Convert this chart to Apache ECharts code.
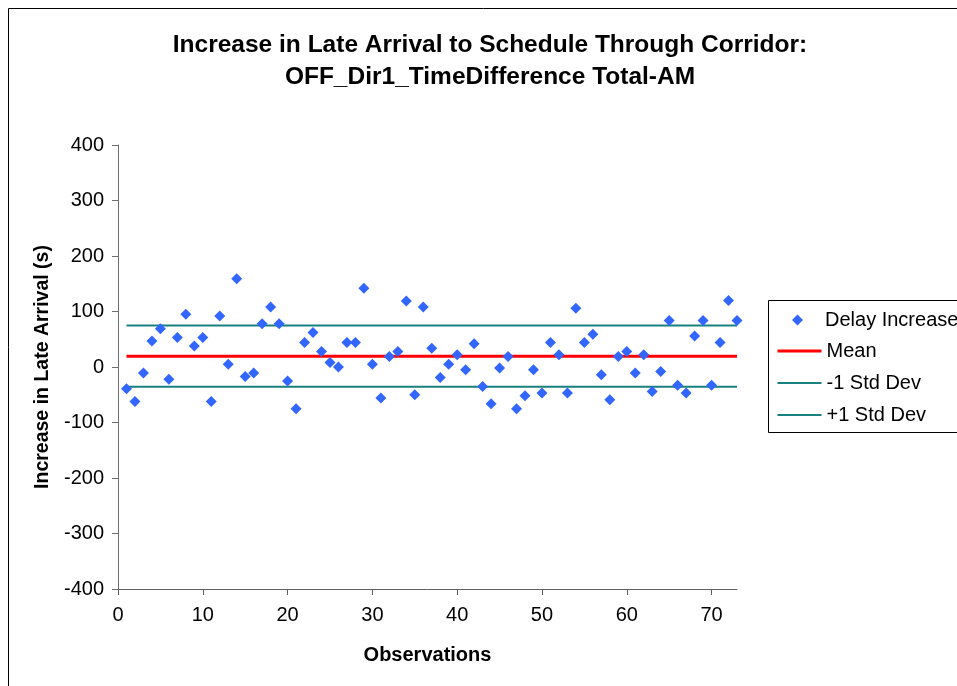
<!DOCTYPE html>
<html><head><meta charset="utf-8">
<script src="https://cdn.jsdelivr.net/npm/echarts@6/dist/echarts.min.js"></script>
<style>html,body{margin:0;padding:0;background:#fff}#c{width:957px;height:686px}</style>
</head><body><div id="c"></div>
<script>
var titleLines = ['Increase in Late Arrival to Schedule Through Corridor:', 'OFF_Dir1_TimeDifference Total-AM'];
var observations = [1,2,3,4,5,6,7,8,9,10,11,12,13,14,15,16,17,18,19,20,21,22,23,24,25,26,27,28,29,30,31,32,33,34,35,36,37,38,39,40,41,42,43,44,45,46,47,48,49,50,51,52,53,54,55,56,57,58,59,60,61,62,63,64,65,66,67,68,69,70,71,72,73];
var delayIncrease = [-39,-62,-11,47,69,-22,53,95,38,53,-62,92,5,159,-17,-11,78,108,78,-25,-75,44,62,28,8,0,44,44,142,5,-56,19,28,119,-50,108,34,-19,5,22,-5,42,-35,-66,-2,19,-75,-52,-5,-47,44,22,-47,106,44,59,-14,-59,19,28,-11,22,-44,-8,84,-33,-47,56,84,-33,44,120,84];
var meanValue = 19.5;
var minusOneStd = -35.5;
var plusOneStd = 75;
var xRange = [1, 73];

function lineData(v){ return xRange.map(function(x){ return [x, v]; }); }

var chart = echarts.init(document.getElementById('c'), null, {renderer:'canvas'});
var font = '"Liberation Sans", Arial, sans-serif';
chart.setOption({
  animation:false,
  backgroundColor:'#ffffff',
  title:{
    text: titleLines.join('\n'),
    left: 485, top: 24, textAlign:'center',
    textStyle:{fontFamily:font, fontSize:24.5, fontWeight:'bold', color:'#000', lineHeight:32}
  },
  graphic:[
    {type:'rect', shape:{x:8.5,y:8.5,width:1000,height:1000}, style:{fill:'none', stroke:'#000', lineWidth:1}, silent:true},
    {type:'rect', shape:{x:768.5,y:300.5,width:300,height:132}, style:{fill:'#fff', stroke:'#000', lineWidth:1}, silent:true, z:-1}
  ],
  legend:[
    {data:[{name:'Delay Increase', icon:'diamond'}], orient:'vertical', left:792, top:310, padding:0,
     itemWidth:11, itemHeight:11,
     itemStyle:{opacity:1},
     textStyle:{fontFamily:font, fontSize:20, color:'#000', padding:[0,0,0,17]}},
    {data:[{name:'Mean', lineStyle:{width:3}},{name:'-1 Std Dev', lineStyle:{width:2}},{name:'+1 Std Dev', lineStyle:{width:2}}],
     orient:'vertical', left:776, top:341, padding:0,
     itemWidth:44, itemHeight:16, itemGap:12,
     itemStyle:{opacity:0},
     textStyle:{fontFamily:font, fontSize:20, color:'#000', lineHeight:16}}
  ],
  grid:{left:118, top:145, right:220, bottom:97, containLabel:false},
  xAxis:{
    type:'value', min:0, max:73, interval:10,
    name:'Observations', nameLocation:'middle', nameGap:56,
    nameTextStyle:{fontFamily:font, fontSize:20, fontWeight:'bold', color:'#000'},
    axisLine:{onZero:false, lineStyle:{color:'#606060', width:1}},
    axisTick:{show:true, length:6, lineStyle:{color:'#606060'}},
    axisLabel:{fontFamily:font, fontSize:20, color:'#000', margin:16, showMaxLabel:false},
    splitLine:{show:false}
  },
  yAxis:{
    type:'value', min:-400, max:400, interval:100,
    name:'Increase in Late Arrival (s)', nameLocation:'middle', nameGap:64, nameRotate:90,
    nameTextStyle:{fontFamily:font, fontSize:19.5, fontWeight:'bold', color:'#000'},
    axisLine:{show:true, onZero:false, lineStyle:{color:'#707070', width:1}},
    axisTick:{show:true, length:6, lineStyle:{color:'#707070'}},
    axisLabel:{fontFamily:font, fontSize:20, color:'#000', margin:14},
    splitLine:{show:false}
  },
  series:[
    {name:'Delay Increase', type:'scatter', symbol:'diamond', symbolSize:11,
     itemStyle:{color:'#3366ff', opacity:1}, z:5,
     data: observations.map(function(x,i){ return [x, delayIncrease[i]]; })},
    {name:'Mean', type:'line', symbol:'none', data:lineData(meanValue),
     lineStyle:{color:'#ff0000', width:3}, itemStyle:{color:'#ff0000'}, z:3},
    {name:'-1 Std Dev', type:'line', symbol:'none', data:lineData(minusOneStd),
     lineStyle:{color:'#178080', width:2}, itemStyle:{color:'#178080'}, z:3},
    {name:'+1 Std Dev', type:'line', symbol:'none', data:lineData(plusOneStd),
     lineStyle:{color:'#178080', width:2}, itemStyle:{color:'#178080'}, z:3}
  ]
});
</script></body></html>
